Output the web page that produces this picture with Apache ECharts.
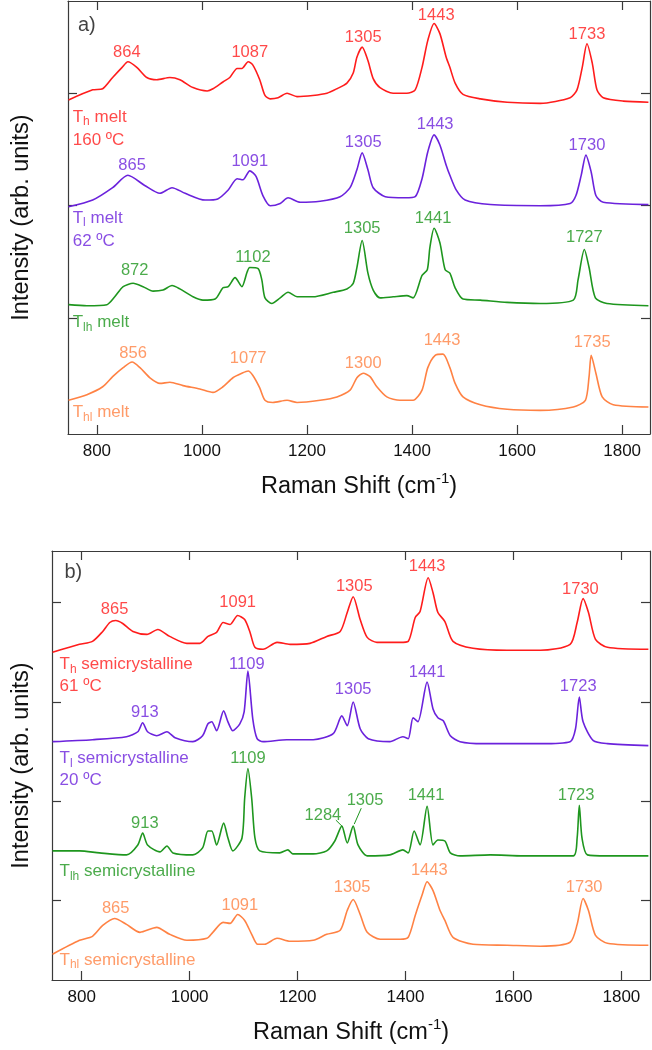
<!DOCTYPE html>
<html>
<head>
<meta charset="utf-8">
<script src="https://cdn.jsdelivr.net/npm/echarts@6/dist/echarts.min.js"></script>
<style>
  html, body { margin: 0; padding: 0; background: #fff; }
  #main { width: 652px; height: 1050px; }
</style>
</head>
<body>
<div id="main"></div>
<script>
// x ticks shared by both panels
const xTicks = [800, 1000, 1200, 1400, 1600, 1800];
const yTicksMelt = [1, 2, 3];
const yTicksSemi = [1, 2, 3, 4];

// a) melt spectra, [Raman shift, stacked intensity]
const meltTh = [[746,2.94],[792,3.03],[811,3.04],[830,3.14],[848,3.23],[859,3.28],[876,3.23],[895,3.14],[914,3.12],[939,3.14],[958,3.12],[983,3.05],[1010,3.02],[1021,3.04],[1040,3.10],[1053,3.14],[1067,3.22],[1076,3.22],[1088,3.28],[1097,3.25],[1110,3.12],[1120,2.98],[1130,2.95],[1145,2.96],[1162,3.00],[1181,2.97],[1211,2.98],[1238,3.00],[1257,3.04],[1276,3.09],[1288,3.18],[1295,3.32],[1305,3.41],[1316,3.29],[1326,3.13],[1339,3.05],[1364,3.00],[1390,3.00],[1406,3.03],[1419,3.23],[1430,3.47],[1442,3.62],[1453,3.53],[1465,3.32],[1472,3.23],[1482,3.09],[1497,2.99],[1530,2.95],[1581,2.92],[1644,2.91],[1701,2.96],[1714,3.03],[1724,3.23],[1733,3.44],[1743,3.27],[1752,3.03],[1764,2.96],[1802,2.93],[1850,2.92]];
const meltTl = [[746,1.99],[792,2.05],[830,2.16],[859,2.27],[891,2.18],[920,2.11],[943,2.16],[968,2.11],[1006,2.05],[1030,2.06],[1050,2.14],[1067,2.24],[1078,2.23],[1091,2.31],[1103,2.26],[1116,2.09],[1130,2.00],[1149,2.02],[1164,2.07],[1187,2.03],[1225,2.04],[1263,2.08],[1282,2.16],[1295,2.32],[1305,2.47],[1316,2.32],[1326,2.16],[1349,2.08],[1387,2.07],[1406,2.08],[1419,2.24],[1430,2.48],[1442,2.63],[1453,2.54],[1465,2.36],[1472,2.27],[1484,2.14],[1501,2.05],[1549,2.01],[1644,2.00],[1701,2.02],[1712,2.09],[1722,2.27],[1731,2.45],[1741,2.30],[1750,2.09],[1764,2.03],[1850,2.01]];
const meltTlh = [[746,1.12],[781,1.11],[819,1.12],[834,1.19],[850,1.28],[869,1.31],[888,1.28],[907,1.24],[926,1.25],[943,1.29],[958,1.26],[983,1.19],[1002,1.16],[1025,1.17],[1040,1.27],[1050,1.28],[1063,1.36],[1076,1.28],[1086,1.41],[1091,1.45],[1107,1.44],[1114,1.34],[1120,1.18],[1133,1.13],[1149,1.18],[1164,1.23],[1181,1.19],[1211,1.19],[1250,1.23],[1276,1.26],[1288,1.31],[1295,1.45],[1305,1.69],[1316,1.40],[1326,1.25],[1339,1.18],[1364,1.19],[1390,1.20],[1402,1.18],[1419,1.38],[1429,1.43],[1434,1.63],[1442,1.80],[1453,1.67],[1463,1.43],[1472,1.40],[1482,1.27],[1497,1.17],[1530,1.16],[1581,1.14],[1644,1.13],[1707,1.16],[1716,1.34],[1728,1.61],[1737,1.45],[1749,1.18],[1771,1.13],[1850,1.11]];
const meltThl = [[746,0.27],[781,0.32],[811,0.39],[830,0.48],[850,0.56],[867,0.61],[882,0.56],[901,0.47],[920,0.42],[939,0.43],[964,0.40],[996,0.37],[1021,0.34],[1040,0.39],[1059,0.47],[1076,0.51],[1088,0.53],[1097,0.49],[1110,0.38],[1120,0.27],[1135,0.25],[1162,0.27],[1181,0.25],[1225,0.27],[1257,0.30],[1282,0.36],[1295,0.47],[1307,0.51],[1320,0.48],[1333,0.39],[1352,0.30],[1377,0.27],[1402,0.27],[1419,0.36],[1430,0.56],[1444,0.67],[1459,0.68],[1472,0.56],[1482,0.42],[1497,0.30],[1530,0.23],[1581,0.19],[1644,0.18],[1707,0.21],[1730,0.27],[1737,0.48],[1741,0.67],[1750,0.51],[1762,0.30],[1783,0.23],[1850,0.21]];

// b) semicrystalline spectra
const semiTh = [[746,3.50],[796,3.58],[820,3.61],[839,3.71],[852,3.80],[863,3.82],[876,3.79],[895,3.71],[921,3.68],[941,3.73],[963,3.66],[995,3.59],[1019,3.59],[1034,3.66],[1050,3.70],[1062,3.80],[1075,3.78],[1089,3.87],[1102,3.83],[1112,3.70],[1121,3.55],[1136,3.53],[1162,3.60],[1186,3.58],[1223,3.59],[1254,3.66],[1279,3.71],[1292,3.90],[1303,4.06],[1316,3.83],[1329,3.65],[1347,3.60],[1390,3.60],[1405,3.61],[1418,3.85],[1427,3.91],[1442,4.25],[1451,4.10],[1460,3.90],[1473,3.81],[1488,3.61],[1525,3.54],[1588,3.52],[1650,3.52],[1705,3.58],[1718,3.80],[1729,4.04],[1739,3.90],[1752,3.63],[1774,3.55],[1850,3.53]];
const semiTl = [[746,2.60],[820,2.62],[883,2.65],[904,2.70],[913,2.79],[922,2.70],[939,2.66],[958,2.70],[973,2.64],[1006,2.60],[1024,2.66],[1034,2.78],[1041,2.80],[1050,2.71],[1063,2.91],[1071,2.80],[1080,2.71],[1093,2.78],[1101,2.90],[1108,3.31],[1117,2.83],[1125,2.63],[1136,2.60],[1180,2.62],[1229,2.62],[1266,2.68],[1282,2.86],[1292,2.76],[1303,3.00],[1316,2.73],[1331,2.63],[1371,2.60],[1395,2.65],[1405,2.63],[1414,2.84],[1423,2.80],[1440,3.20],[1451,2.93],[1460,2.84],[1470,2.81],[1483,2.66],[1501,2.60],[1544,2.58],[1588,2.58],[1650,2.58],[1705,2.60],[1715,2.73],[1722,3.05],[1729,2.80],[1748,2.61],[1774,2.58],[1850,2.56]];
const semiTlh = [[746,1.50],[796,1.50],[833,1.48],[883,1.46],[904,1.56],[913,1.68],[922,1.56],[945,1.49],[958,1.55],[969,1.48],[1006,1.46],[1024,1.53],[1034,1.70],[1041,1.70],[1050,1.56],[1063,1.78],[1071,1.63],[1080,1.50],[1097,1.63],[1102,2.03],[1108,2.33],[1115,2.03],[1121,1.63],[1130,1.50],[1167,1.48],[1182,1.51],[1191,1.47],[1229,1.47],[1254,1.50],[1269,1.60],[1282,1.75],[1292,1.58],[1303,1.75],[1312,1.56],[1329,1.45],[1371,1.46],[1395,1.51],[1405,1.48],[1416,1.70],[1427,1.56],[1440,1.95],[1451,1.56],[1460,1.61],[1473,1.60],[1483,1.48],[1501,1.45],[1557,1.46],[1618,1.45],[1711,1.45],[1718,1.63],[1722,1.96],[1727,1.63],[1737,1.46],[1774,1.45],[1850,1.45]];
const semiThl = [[746,0.46],[796,0.60],[820,0.64],[839,0.75],[861,0.82],[883,0.76],[908,0.68],[939,0.73],[963,0.66],[995,0.60],[1032,0.62],[1043,0.68],[1062,0.78],[1075,0.77],[1089,0.86],[1102,0.80],[1115,0.66],[1126,0.56],[1139,0.56],[1162,0.62],[1186,0.59],[1229,0.60],[1254,0.66],[1279,0.70],[1292,0.90],[1303,1.01],[1316,0.86],[1329,0.68],[1353,0.61],[1390,0.61],[1405,0.63],[1418,0.85],[1431,1.06],[1440,1.19],[1451,1.10],[1464,0.90],[1473,0.80],[1488,0.63],[1525,0.56],[1588,0.55],[1650,0.54],[1705,0.58],[1718,0.76],[1729,1.02],[1739,0.90],[1752,0.65],[1774,0.57],[1850,0.55]];

// peak annotations [x, y, text]
const meltPeaksTh = [[857,3.36,'864'],[1091,3.36,'1087'],[1307,3.50,'1305'],[1446,3.69,'1443'],[1733,3.52,'1733']];
const meltPeaksTl = [[867,2.36,'865'],[1091,2.39,'1091'],[1307,2.56,'1305'],[1444,2.72,'1443'],[1733,2.54,'1730']];
const meltPeaksTlh = [[872,1.42,'872'],[1097,1.54,'1102'],[1305,1.80,'1305'],[1440,1.89,'1441'],[1728,1.72,'1727']];
const meltPeaksThl = [[869,0.69,'856'],[1088,0.64,'1077'],[1307,0.60,'1300'],[1457,0.80,'1443'],[1743,0.78,'1735']];
const semiPeaksTh = [[861,3.93,'865'],[1089,4.00,'1091'],[1305,4.16,'1305'],[1440,4.36,'1443'],[1724,4.13,'1730']];
const semiPeaksTl = [[917,2.89,'913'],[1106,3.38,'1109'],[1303,3.13,'1305'],[1440,3.30,'1441'],[1720,3.16,'1723']];
const semiPeaksTlh = [[917,1.78,'913'],[1108,2.43,'1109'],[1247,1.86,'1284'],[1325,2.01,'1305'],[1438,2.06,'1441'],[1716,2.06,'1723']];
const semiPeaksThl = [[863,0.92,'865'],[1093,0.95,'1091'],[1301,1.13,'1305'],[1444,1.30,'1443'],[1731,1.13,'1730']];
// little leader lines for 1284 / 1305 in the Tlh semicrystalline trace
const leader1284 = [[1271,1.81],[1284,1.74]];
const leader1305 = [[1318,1.93],[1305,1.77]];

// sample names [x, y, subscript, rest] and temperatures [x, y, text]
const meltNames = [[754,2.79,'h',' melt'],[754,1.89,'l',' melt'],[754,0.96,'lh',' melt'],[754,0.16,'hl',' melt']];
const meltTemps = [[754,2.58,'160 ºC'],[754,1.68,'62 ºC']];
const semiNames = [[759,3.38,'h',' semicrystalline'],[759,2.43,'l',' semicrystalline'],[759,1.29,'lh',' semicrystalline'],[759,0.40,'hl',' semicrystalline']];
const semiTemps = [[759,3.16,'61 ºC'],[759,2.21,'20 ºC']];

const FONT = '"Liberation Sans", Arial, Helvetica, sans-serif';
const colors = ['#ff1c1c', '#6b22dc', '#1e961e', '#ff8244'];
const AX = '#3a3a3a';

const xAxisPair = (grid) => [
  {
    type: 'value', gridIndex: grid, min: 745, max: 1853, position: 'bottom',
    axisLine: { onZero: false, lineStyle: { color: AX, width: 1.2 } },
    axisTick: { inside: true, length: 9, customValues: xTicks, lineStyle: { color: AX, width: 1.2 } },
    axisLabel: { customValues: xTicks, formatter: (v) => String(v), color: '#111', fontSize: 17, fontFamily: FONT, margin: 9 },
    splitLine: { show: false },
    name: 'Raman Shift (cm{sup|-1})', nameLocation: 'middle', nameGap: 37,
    nameTextStyle: { color: '#111', fontSize: 23.5, fontFamily: FONT, lineHeight: 32,
      rich: { sup: { fontSize: 15, lineHeight: 14, verticalAlign: 'top', color: '#111', fontFamily: FONT } } }
  },
  {
    type: 'value', gridIndex: grid, min: 745, max: 1853, position: 'top',
    axisLine: { onZero: false, lineStyle: { color: AX, width: 1.2 } },
    axisTick: { inside: true, length: 9, customValues: xTicks, lineStyle: { color: AX, width: 1.2 } },
    axisLabel: { show: false }, splitLine: { show: false }
  }
];

const yAxisPair = (grid, min, max, ticks, gap) => [
  {
    type: 'value', gridIndex: grid, min: min, max: max, position: 'left',
    axisLine: { onZero: false, lineStyle: { color: AX, width: 1.2 } },
    axisTick: { inside: true, length: 9, customValues: ticks, lineStyle: { color: AX, width: 1.2 } },
    axisLabel: { show: false }, splitLine: { show: false },
    name: 'Intensity (arb. units)', nameLocation: 'middle', nameGap: gap,
    nameTextStyle: { color: '#111', fontSize: 23.5, fontFamily: FONT }
  },
  {
    type: 'value', gridIndex: grid, min: min, max: max, position: 'right',
    axisLine: { onZero: false, lineStyle: { color: AX, width: 1.2 } },
    axisTick: { inside: true, length: 9, customValues: ticks, lineStyle: { color: AX, width: 1.2 } },
    axisLabel: { show: false }, splitLine: { show: false }
  }
];

function spectrum(data, color, xi, yi) {
  return {
    type: 'line', data: data, xAxisIndex: xi, yAxisIndex: yi,
    showSymbol: false, smooth: 0.25, silent: true,
    lineStyle: { color: color, width: 1.6 }
  };
}

function textLayer(items, xi, yi, align) {
  return {
    type: 'scatter', xAxisIndex: xi, yAxisIndex: yi, symbolSize: 0, silent: true, z: 5,
    data: items,
    label: {
      show: true, position: 'inside', align: align, fontFamily: FONT, fontSize: 16.5,
      formatter: (p) => p.data.text
    }
  };
}

const peakItems = (arr, color) => arr.map(d => ({ value: [d[0], d[1]], text: d[2], label: { color: color } }));
const nameItems = (arr) => arr.map((d, i) => ({
  value: [d[0], d[1]], text: '{n|T}{s|' + d[2] + '}{n|' + d[3] + '}',
  label: { color: colors[i], rich: {
    n: { fontSize: 17, lineHeight: 22, color: colors[i], fontFamily: FONT },
    s: { fontSize: 12, lineHeight: 11, verticalAlign: 'bottom', color: colors[i], fontFamily: FONT }
  } }
}));
const tempItems = (arr) => arr.map((d, i) => ({ value: [d[0], d[1]], text: d[2], label: { color: colors[i], fontSize: 17 } }));

const chart = echarts.init(document.getElementById('main'), null, { renderer: 'canvas' });

const option = {
  animation: false,
  backgroundColor: '#fff',
  grid: [
    { left: 68, right: 2, top: 1, height: 433 },
    { left: 52, right: 2, top: 551, height: 432 }
  ],
  xAxis: [...xAxisPair(0), ...xAxisPair(1)],
  yAxis: [...yAxisPair(0, -0.03, 3.82, yTicksMelt, 34), ...yAxisPair(1, 0.2, 4.52, yTicksSemi, 18)],
  series: [
    spectrum(meltTh, colors[0], 0, 0),
    spectrum(meltTl, colors[1], 0, 0),
    spectrum(meltTlh, colors[2], 0, 0),
    spectrum(meltThl, colors[3], 0, 0),
    spectrum(semiTh, colors[0], 2, 2),
    spectrum(semiTl, colors[1], 2, 2),
    spectrum(semiTlh, colors[2], 2, 2),
    spectrum(semiThl, colors[3], 2, 2),
    { type: 'line', data: leader1284, xAxisIndex: 2, yAxisIndex: 2, showSymbol: false, silent: true, lineStyle: { color: colors[2], width: 1 } },
    { type: 'line', data: leader1305, xAxisIndex: 2, yAxisIndex: 2, showSymbol: false, silent: true, lineStyle: { color: colors[2], width: 1 } },
    textLayer([].concat(peakItems(meltPeaksTh, colors[0]), peakItems(meltPeaksTl, colors[1]),
      peakItems(meltPeaksTlh, colors[2]), peakItems(meltPeaksThl, colors[3])), 0, 0, 'center'),
    textLayer([].concat(peakItems(semiPeaksTh, colors[0]), peakItems(semiPeaksTl, colors[1]),
      peakItems(semiPeaksTlh, colors[2]), peakItems(semiPeaksThl, colors[3])), 2, 2, 'center'),
    textLayer([].concat(nameItems(meltNames), tempItems(meltTemps),
      [{ value: [764, 3.60], text: 'a)', label: { color: '#111', fontSize: 20 } }]), 0, 0, 'left'),
    textLayer([].concat(nameItems(semiNames), tempItems(semiTemps),
      [{ value: [768, 4.30], text: 'b)', label: { color: '#111', fontSize: 20 } }]), 2, 2, 'left')
  ]
};

chart.setOption(option);
</script>
</body>
</html>
